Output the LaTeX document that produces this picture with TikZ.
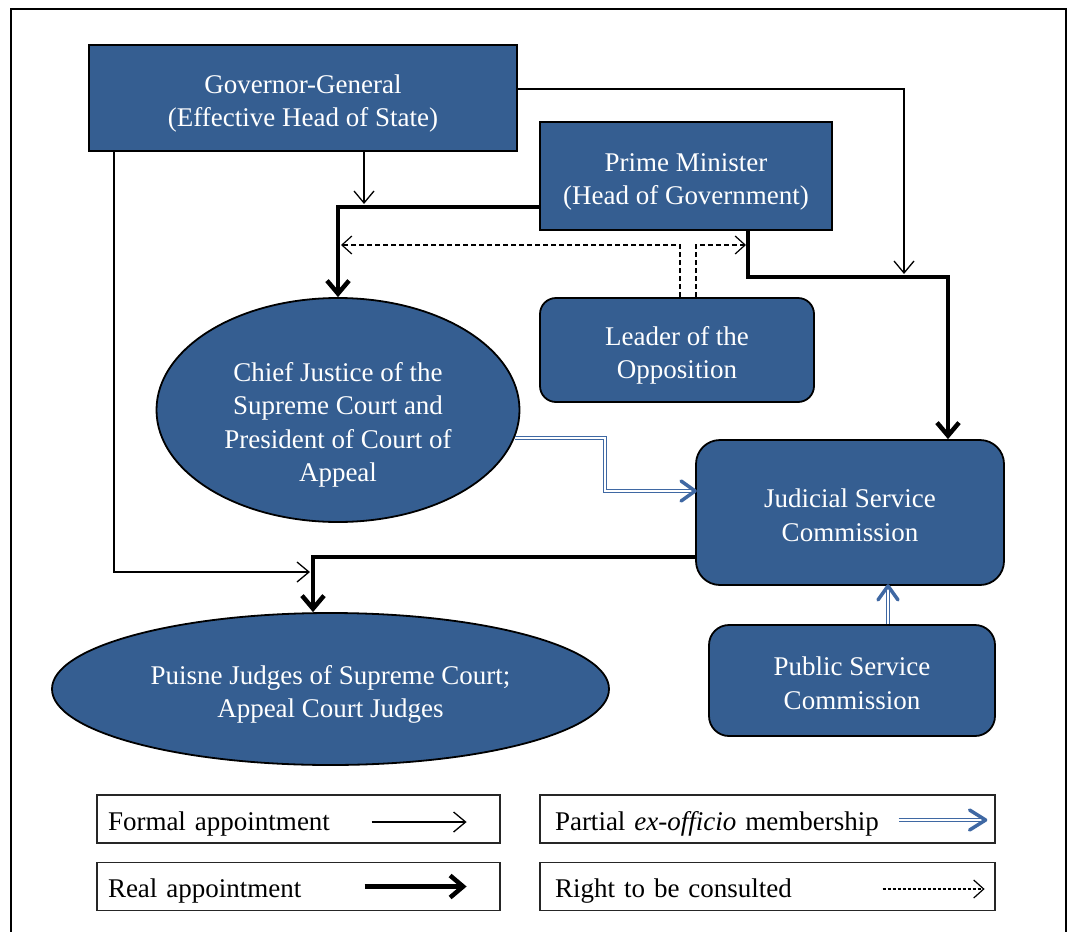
\documentclass[tikz,border=0pt]{standalone}
\usepackage{fontspec}
\setmainfont{Liberation Serif}
\usetikzlibrary{arrows.meta,shapes.geometric,calc}
\definecolor{boxblue}{RGB}{53,94,145}
\definecolor{lineblue}{RGB}{63,104,163}
\begin{document}
\begin{tikzpicture}[x=1pt,y=-1pt,
  font=\fontsize{27}{33.5}\selectfont,
  entity/.style={draw=black, line width=1.8pt, fill=boxblue, text=white, align=center, inner sep=0pt, text depth=0pt, text height=57pt},
  rbox/.style={entity, rectangle},
  rrbox/.style={entity, rectangle, rounded corners=#1},
  oval/.style={entity, ellipse},
  formal/.style={line width=1.3pt, -{Straight Barb[length=12pt,width=20pt]}},
  real/.style={line width=4.5pt, -{Straight Barb[length=13pt,width=22pt]}},
  consult/.style={line width=1.2pt, dash pattern=on 5pt off 3pt, -{Straight Barb[length=10pt,width=18pt]}},
  memb/.style={draw=lineblue, line width=1.3pt, double=white, double distance=1.8pt},
  membtip/.style={draw=lineblue, line width=3.5pt, line cap=round, line join=round},
  legbox/.style={draw=black!85, line width=1.2pt, minimum height=48pt, inner ysep=0pt, inner xsep=11pt, align=left, text height=28pt},
]
\useasboundingbox (0,0) rectangle (1069,932);
\clip (0,0) rectangle (1069,932);
\draw[line width=2pt] (11,945) -- (11,9) -- (1066,9) -- (1066,945);

% nodes
\node[rbox, minimum width=428pt, minimum height=106pt] (gg) at (303,98) {Governor-General\\(Effective Head of State)};
\node[rbox, minimum width=292pt, minimum height=108pt] (pm) at (686,176) {Prime Minister\\(Head of Government)};
\node[rrbox=16pt, minimum width=274pt, minimum height=104pt] (lo) at (677,350) {Leader of the\\Opposition};
\node[oval, minimum width=363pt, minimum height=224pt, text height=143pt] (cj) at (338,410) {Chief Justice of the\\Supreme Court and\\President of Court of\\Appeal};
\node[rrbox=24pt, minimum width=308pt, minimum height=145pt] (jsc) at (850,512.5) {Judicial Service\\Commission};
\node[rrbox=20pt, minimum width=286pt, minimum height=111pt] (psc) at (852,680.5) {Public Service\\Commission};
\node[oval, minimum width=557pt, minimum height=152pt] (pj) at (330.5,689) {Puisne Judges of Supreme Court;\\Appeal Court Judges};

% junction points on other connectors
\coordinate (jA) at (364,204);
\coordinate (jB) at (904,274);
\coordinate (jC) at (310,572);
\coordinate (jD) at (341,245);
\coordinate (jE) at (746,245);

% formal appointment
\draw[formal] (gg.south -| jA) -- (jA);
\draw[formal] (gg.east |- 0,89) -| (jB);
\draw[formal] (gg.south -| 114,0) |- (jC);

% real appointment
\draw[real] (pm.west |- 0,207) -| (cj.north);
\draw[real] (pm.south -| 748,0) |- (948,277) -- (jsc.north -| 948,0);
\draw[real] (jsc.west |- 0,557) -| (pj.north -| 313,0);

% right to be consulted
\draw[consult] (lo.north -| 680,0) |- (jD);
\draw[consult] (lo.north -| 696,0) |- (jE);

% partial ex-officio membership
\coordinate (m1) at (jsc.west |- 0,491);
\draw[memb, shorten >=2pt] (cj.-9) -| (605,491) -- (m1);
\draw[membtip] ([shift={(-14,-10)}]m1) -- (m1) -- ([shift={(-14,10)}]m1);
\coordinate (m2) at (jsc.south -| 888,0);
\draw[memb, shorten >=2pt] (psc.north -| 888,0) -- (m2);
\draw[membtip] ([shift={(-10,14)}]m2) -- (m2) -- ([shift={(10,14)}]m2);

% legend
\node[legbox, text width=381pt] (l1) at (298.5,819) {Formal appointment};
\node[legbox, text width=425pt, inner xsep=15pt] (l2) at (767.5,819) {Partial \textit{ex-officio} membership};
\node[legbox, text width=381pt] (l3) at (298.5,886.5) {Real appointment};
\node[legbox, text width=425pt, inner xsep=15pt] (l4) at (767.5,886.5) {Right to be consulted};

\draw[formal] ([shift={(-129,3)}]l1.east) -- ([shift={(-34,3)}]l1.east);
\draw[real] ([shift={(-136,0)}]l3.east) -- ([shift={(-34,0)}]l3.east);
\coordinate (m3) at ([shift={(-10,1)}]l2.east);
\draw[memb, shorten >=2pt] ([shift={(-97,1)}]l2.east) -- (m3);
\draw[membtip] ([shift={(-16,-10)}]m3) -- (m3) -- ([shift={(-16,10)}]m3);
\draw[consult, dash pattern=on 3pt off 2pt] ([shift={(-113,2.5)}]l4.east) -- ([shift={(-11,2.5)}]l4.east);
\end{tikzpicture}
\end{document}
